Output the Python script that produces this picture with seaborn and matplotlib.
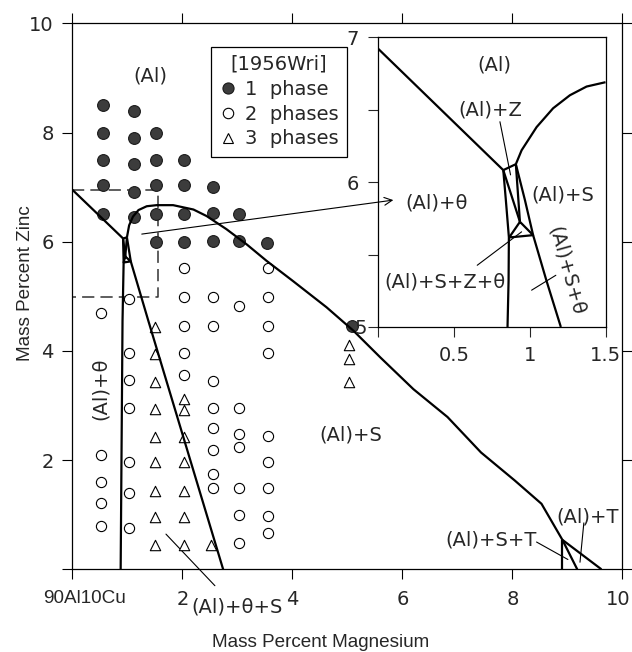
import matplotlib
matplotlib.use("Agg")
import matplotlib.pyplot as plt
from matplotlib.lines import Line2D
from matplotlib.patches import ConnectionPatch
from matplotlib.transforms import ScaledTranslation
import seaborn as sns
import pandas as pd

# [1956Wri] sample compositions, mass % Mg / mass % Zn
one_phase_mg = [0.55, 0.55, 0.55, 0.55, 0.55, 1.12, 1.12, 1.12, 1.12, 1.12,
                1.52, 1.52, 1.52, 1.52, 1.52, 2.03, 2.03, 2.03, 2.03,
                2.55, 2.55, 2.55, 3.02, 3.02, 3.53, 5.08]
one_phase_zn = [8.50, 8.00, 7.49, 7.03, 6.50, 8.40, 7.90, 7.42, 6.91, 6.45,
                8.00, 7.49, 7.03, 6.51, 6.00, 7.49, 7.03, 6.51, 6.00,
                7.00, 6.53, 6.02, 6.51, 6.02, 5.98, 4.46]

two_phase_mg = [0.51, 0.51, 0.51, 0.51, 0.51,
                1.03, 1.03, 1.03, 1.03, 1.03, 1.03, 1.03,
                2.03, 2.03, 2.03, 2.03, 2.03,
                2.55, 2.55, 2.55, 2.55, 2.55, 2.55, 2.55, 2.55,
                3.02, 3.02, 3.02, 3.02, 3.02, 3.02, 3.02,
                3.55, 3.55, 3.55, 3.55, 3.55, 3.55, 3.55, 3.55, 3.55]
two_phase_zn = [4.69, 2.10, 1.60, 1.21, 0.80,
                4.96, 3.96, 3.46, 2.96, 1.96, 1.40, 0.76,
                5.51, 4.98, 4.46, 3.96, 3.56,
                4.99, 4.46, 3.45, 2.96, 2.58, 2.19, 1.75, 1.49,
                4.83, 2.96, 2.48, 2.24, 1.49, 0.99, 0.48,
                5.51, 4.98, 4.46, 3.96, 2.45, 1.97, 1.49, 0.97, 0.67]

three_phase_mg = [1.50, 1.50, 1.50, 1.50, 1.50, 1.50, 1.50, 1.50, 1.50,
                  2.03, 2.03, 2.03, 2.03, 2.03, 2.03, 2.03,
                  2.52, 5.03, 5.03, 5.03]
three_phase_zn = [4.43, 3.94, 3.44, 2.94, 2.43, 1.96, 1.44, 0.96, 0.44,
                  3.12, 2.92, 2.42, 1.96, 1.44, 0.96, 0.44,
                  0.44, 4.10, 3.85, 3.44]

# phase boundaries, main diagram
liq_mg, liq_zn = [0, 0.92], [6.95, 6.06]
left_mg, left_zn = [0.92, 0.93, 0.91, 0.876], [6.06, 5.62, 4.55, 0]
solvus_mg = [0.99, 1.03, 1.10, 1.20, 1.35, 1.53, 1.83, 2.20, 2.44, 2.80, 3.17,
             3.53, 4.01, 4.62, 5.11, 5.60, 6.20, 6.82, 7.43, 8.04, 8.53, 8.91, 9.62]
solvus_zn = [6.08, 6.30, 6.46, 6.58, 6.65, 6.67, 6.67, 6.59, 6.47, 6.23, 5.95,
             5.65, 5.28, 4.80, 4.37, 3.88, 3.30, 2.79, 2.14, 1.63, 1.20, 0.54, 0]
right_mg, right_zn = [0.99, 1.06, 1.38, 2.74], [6.08, 5.64, 4.55, 0]
small_lines = [([0.92, 0.99], [6.06, 6.08]),
               ([0.92, 0.96], [6.06, 5.73]),
               ([0.99, 0.96], [6.08, 5.73]),
               ([0.96, 0.93, 1.06, 0.96], [5.73, 5.62, 5.64, 5.73]),
               ([8.91, 8.91], [0.54, 0]),
               ([8.91, 9.18], [0.54, 0])]
box_mg, box_zn = [0, 1.55, 1.55, 0], [6.95, 6.95, 4.98, 4.98]

# phase boundaries, inset
ins_lines = [([0, 0.825], [6.92, 6.083]),
             ([0.825, 0.842, 0.862, 0.860, 0.853], [6.083, 5.876, 5.62, 5.32, 5.0]),
             ([0.908, 0.946, 1.045, 1.154, 1.265, 1.375, 1.5],
              [6.124, 6.22, 6.38, 6.51, 6.60, 6.66, 6.69]),
             ([0.825, 0.908], [6.083, 6.124]),
             ([0.825, 0.935], [6.083, 5.726]),
             ([0.908, 0.935], [6.124, 5.726]),
             ([0.908, 0.968, 1.022, 1.11, 1.205], [6.124, 5.876, 5.634, 5.32, 5.0]),
             ([0.935, 0.864, 1.022, 0.935], [5.726, 5.618, 5.634, 5.726])]
ins_leaders = [([0.803, 0.873], [6.417, 6.05]),
               ([0.653, 0.946], [5.426, 5.657]),
               ([1.012, 1.172], [5.254, 5.357])]

sns.set_style("ticks")
plt.rcParams["font.family"] = ["DejaVu Sans"]
plt.rcParams["font.size"] = 14

fig = plt.figure(figsize=(6.32, 6.52), dpi=100)
ax = fig.add_axes([0.1147, 0.1268, 0.870, 0.8374])

pts = pd.concat([
    pd.DataFrame({"Mg": one_phase_mg, "Zn": one_phase_zn, "phase": "1"}),
    pd.DataFrame({"Mg": two_phase_mg, "Zn": two_phase_zn, "phase": "2"}),
    pd.DataFrame({"Mg": three_phase_mg, "Zn": three_phase_zn, "phase": "3"}),
])
sns.scatterplot(data=pts[pts.phase == "1"], x="Mg", y="Zn", marker="o", s=72,
                color="#3c3c3c", edgecolor="#1a1a1a", linewidth=0.8, zorder=3, ax=ax)
sns.scatterplot(data=pts[pts.phase == "2"], x="Mg", y="Zn", marker="o", s=54,
                color="white", edgecolor="black", linewidth=0.8, zorder=3, ax=ax)
sns.scatterplot(data=pts[pts.phase == "3"], x="Mg", y="Zn", marker="^", s=56,
                color="white", edgecolor="black", linewidth=0.8, zorder=3, ax=ax)

for xs, ys in [(liq_mg, liq_zn), (left_mg, left_zn), (solvus_mg, solvus_zn),
               (right_mg, right_zn)] + small_lines:
    ax.plot(xs, ys, color="black", lw=1.6, zorder=4, solid_capstyle="butt")
ax.plot(box_mg, box_zn, color="#333333", lw=1.1, ls=(0, (8, 4)), zorder=2)

# leaders in main plot
ax.plot([1.70, 2.59], [0.645, -0.30], color="black", lw=0.8, clip_on=False)
ax.plot([8.44, 9.01], [0.50, 0.18], color="black", lw=0.8)
ax.plot([9.30, 9.23], [0.85, 0.13], color="black", lw=0.8)

ax.text(1.42, 9.03, "(Al)", ha="center", va="center")
ax.text(0.50, 3.31, "(Al)+θ", ha="center", va="center", rotation=90)
ax.text(5.07, 2.46, "(Al)+S", ha="center", va="center")
ax.text(3.00, -0.69, "(Al)+θ+S", ha="center", va="center")
ax.text(7.62, 0.54, "(Al)+S+T", ha="center", va="center")
ax.text(9.36, 0.96, "(Al)+T", ha="center", va="center")

ax.set_xlim(0, 10)
ax.set_ylim(0, 10)
ax.set_xticks([0, 2, 4, 6, 8, 10])
ax.set_xticklabels(["90Al10Cu", "2", "4", "6", "8", "10"])
ax.set_yticks([0, 2, 4, 6, 8, 10])
ax.set_yticklabels(["", "2", "4", "6", "8", "10"])
ax.tick_params(direction="out", length=7.5, width=0.8, top=True, right=True,
               labelsize=14, color="black")
ax.tick_params(axis="x", pad=7.5)
ax.tick_params(axis="y", pad=6)
xlabels = ax.get_xticklabels()
first = xlabels[0]
first.set_fontfamily("Liberation Sans")
first.set_fontsize(13.6)
first.set_transform(first.get_transform() + ScaledTranslation(0.125, 0, fig.dpi_scale_trans))
last = xlabels[-1]
last.set_transform(last.get_transform() + ScaledTranslation(-0.045, 0, fig.dpi_scale_trans))
for sp in ax.spines.values():
    sp.set_linewidth(0.9)
    sp.set_color("black")

ax.set_xlabel("Mass Percent Magnesium", fontfamily="Liberation Sans", fontsize=13.6)
ax.set_ylabel("Mass Percent Zinc", fontfamily="Liberation Sans", fontsize=13.6)
ax.xaxis.set_label_coords(0.452, -0.118)
ax.yaxis.set_label_coords(-0.07, 0.524)

handles = [
    Line2D([], [], ls="none", marker="o", ms=8, mfc="#3c3c3c", mec="#1a1a1a", mew=0.8, label="1  phase"),
    Line2D([], [], ls="none", marker="o", ms=7.5, mfc="white", mec="black", mew=0.8, label="2  phases"),
    Line2D([], [], ls="none", marker="^", ms=7.5, mfc="white", mec="black", mew=0.8, label="3  phases"),
]
leg = ax.legend(handles=handles, title="[1956Wri]", loc="upper left",
                bbox_to_anchor=(0.252, 0.957), borderaxespad=0, frameon=True,
                fancybox=False, edgecolor="black", framealpha=1, fontsize=14,
                title_fontsize=14, handlelength=0.9, handletextpad=0.45,
                borderpad=0.42, labelspacing=0.3)
leg.get_frame().set_linewidth(0.9)

# inset: magnified corner
axins = fig.add_axes([0.5986, 0.4985, 0.3595, 0.4443])
axins.set_facecolor("white")
for xs, ys in ins_lines:
    axins.plot(xs, ys, color="black", lw=1.6, solid_capstyle="butt")
for xs, ys in ins_leaders:
    axins.plot(xs, ys, color="black", lw=0.8)
axins.text(0.763, 6.81, "(Al)", ha="center", va="center")
axins.text(0.741, 6.50, "(Al)+Z", ha="center", va="center")
axins.text(0.385, 5.853, "(Al)+θ", ha="center", va="center")
axins.text(1.22, 5.91, "(Al)+S", ha="center", va="center")
axins.text(0.44, 5.31, "(Al)+S+Z+θ", ha="center", va="center")
axins.text(1.243, 5.39, "(Al)+S+θ", ha="center", va="center", rotation=-74.5)
axins.set_xlim(0, 1.5)
axins.set_ylim(5, 7)
axins.set_xticks([0, 0.5, 1, 1.5])
axins.set_xticklabels(["", "0.5", "1", "1.5"])
axins.set_yticks([5, 5.5, 6, 6.5, 7])
axins.set_yticklabels(["5", "", "6", "", "7"])
axins.tick_params(direction="out", length=7, width=0.8, labelsize=14, pad=7)
five = axins.get_yticklabels()[0]
five.set_transform(five.get_transform() + ScaledTranslation(0.08, 0, fig.dpi_scale_trans))
for sp in axins.spines.values():
    sp.set_linewidth(0.9)
    sp.set_color("black")

arrow = ConnectionPatch(xyA=(1.26, 6.14), coordsA=ax.transData,
                        xyB=(0.099, 5.876), coordsB=axins.transData,
                        arrowstyle="->", lw=0.8, mutation_scale=14, color="black")
fig.add_artist(arrow)

fig.savefig("out.png", dpi=100)
